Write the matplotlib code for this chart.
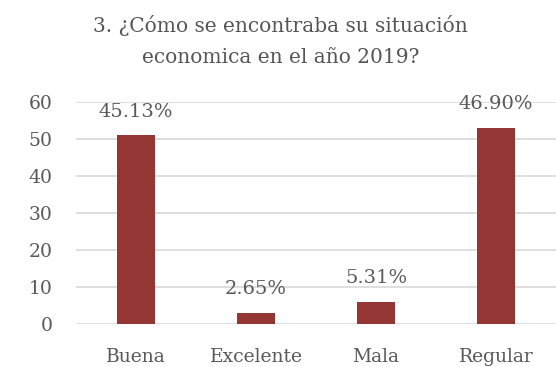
import matplotlib
matplotlib.use("Agg")
from matplotlib import pyplot as plt

# Respuestas a la pregunta 3 (número de personas)
categorias = ["Buena", "Excelente", "Mala", "Regular"]
conteos = [51, 3, 6, 53]
porcentajes = ["45.13%", "2.65%", "5.31%", "46.90%"]
marcas_y = [0, 10, 20, 30, 40, 50, 60]

color_barra = "#943634"
color_texto = "#595959"
color_grid = "#d9d9d9"

plt.rcParams["font.family"] = ["DejaVu Serif"]

fig = plt.figure(figsize=(5.56, 3.67), dpi=100)
ax = fig.add_axes([76 / 556, 1 - 324 / 367, 480 / 556, 222 / 367])

x = range(len(categorias))
barras = ax.bar(x, conteos, width=0.31, color=color_barra, zorder=3)

# Etiquetas con el porcentaje encima de cada barra
for b, txt in zip(barras, porcentajes):
    ax.annotate(txt, (b.get_x() + b.get_width() / 2, b.get_height()),
                xytext=(0, 17), textcoords="offset points", ha="center",
                va="center", fontsize=14, color=color_texto, clip_on=False)

ax.set_xlim(-0.5, 3.5)
ax.set_ylim(0, 60)
ax.set_yticks(marcas_y)
ax.set_xticks(list(x))
ax.set_xticklabels(categorias)
ax.yaxis.grid(True, color=color_grid, linewidth=1.2, zorder=0)
ax.set_axisbelow(True)
for s in ax.spines.values():
    s.set_visible(False)
ax.tick_params(axis="both", length=0, colors=color_texto)
ax.tick_params(axis="x", pad=17, labelsize=13.5)
ax.tick_params(axis="y", pad=17, labelsize=13.5)

fig.text(0.504, 0.888, "3. ¿Cómo se encontraba su situación\neconomica en el año 2019?",
         ha="center", va="center", fontsize=14.5, color="#555555",
         linespacing=1.8)

plt.savefig("out.png", dpi=100)
